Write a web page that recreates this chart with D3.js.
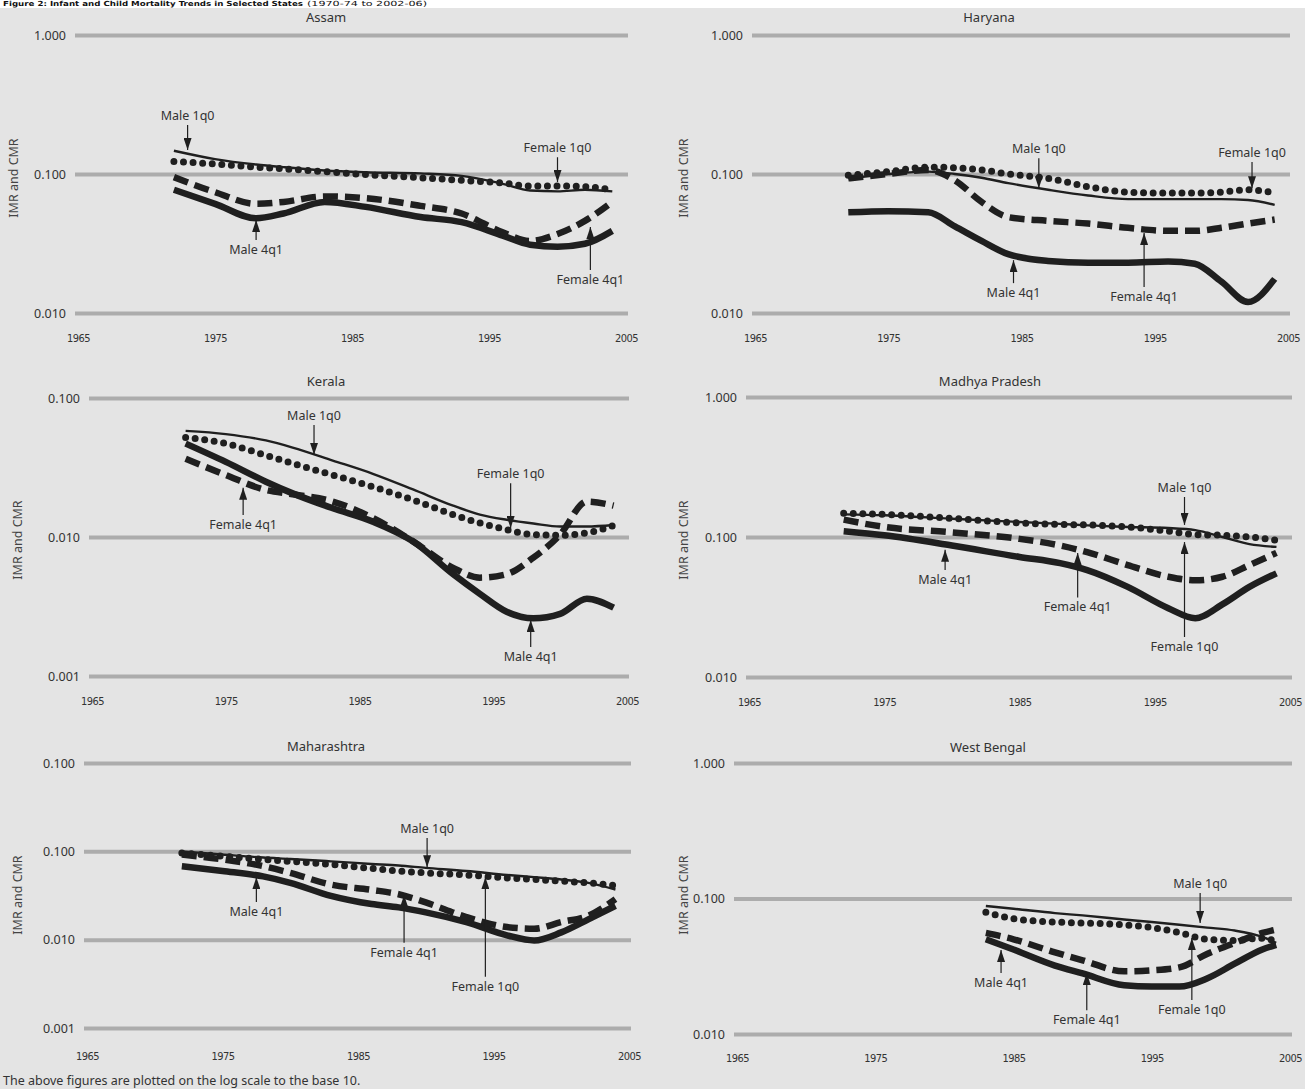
<!DOCTYPE html>
<meta charset="utf-8">
<script src="https://d3js.org/d3.v7.min.js"></script>
<style>
  body { margin: 0; background: #fff; }
  svg { display: block; }
  text { fill: #333; font-family: "Noto Sans", "Open Sans", sans-serif; }
  .xaxis text { font-family: "Liberation Sans Narrow", "DejaVu Sans Condensed", sans-serif; font-stretch: condensed; font-size: 11px; letter-spacing: -0.6px; }
  .yaxis text { font-size: 12.5px; }
</style>
<body>
<div id="chart"></div>
<script>
// ---- data ----
const xTicks = [1965, 1975, 1985, 1995, 2005];

const assamYears = [1972, 1975, 1978, 1980, 1983, 1986, 1990, 1993, 1996, 1998, 2000, 2002, 2004];
const assamMale1q0 = [0.147, 0.128, 0.117, 0.112, 0.106, 0.103, 0.101, 0.097, 0.085, 0.076, 0.075, 0.077, 0.075];
const assamFemale1q0 = [0.123, 0.118, 0.112, 0.109, 0.104, 0.099, 0.094, 0.090, 0.086, 0.082, 0.082, 0.081, 0.077];
const assamMale4q1 = [0.077, 0.061, 0.048, 0.052, 0.063, 0.058, 0.049, 0.045, 0.036, 0.031, 0.030, 0.0315, 0.039];
const assamFemale4q1 = [0.095, 0.074, 0.061, 0.063, 0.069, 0.067, 0.059, 0.052, 0.038, 0.033, 0.037, 0.046, 0.063];
const assamTicks = [1, 0.1, 0.01];
const assamTickLabels = ["1.000", "0.100", "0.010"];
const assamNotes = [
  ["Male 1q0", 1973, 0.149, 0.225],
  ["Female 1q0", 2000, 0.0875, 0.132],
  ["Male 4q1", 1978, 0.0467, 0.0335],
  ["Female 4q1", 2002.4, 0.0416, 0.0204]
];

const haryanaYears = [1972, 1975, 1978, 1980, 1982, 1984, 1987, 1990, 1993, 1996, 1998, 2000, 2002, 2004];
const haryanaMale1q0 = [0.093, 0.100, 0.104, 0.100, 0.094, 0.086, 0.077, 0.070, 0.066, 0.066, 0.066, 0.066, 0.065, 0.060];
const haryanaFemale1q0 = [0.098, 0.104, 0.112, 0.111, 0.107, 0.100, 0.093, 0.081, 0.074, 0.073, 0.073, 0.074, 0.077, 0.073];
const haryanaMale4q1 = [0.053, 0.054, 0.053, 0.042, 0.033, 0.0265, 0.0237, 0.023, 0.023, 0.0235, 0.0226, 0.0168, 0.012, 0.0176];
const haryanaFemale4q1 = [0.093, 0.100, 0.107, 0.090, 0.063, 0.049, 0.046, 0.044, 0.041, 0.039, 0.039, 0.041, 0.044, 0.047];
const haryanaTicks = [1, 0.1, 0.01];
const haryanaTickLabels = ["1.000", "0.100", "0.010"];
const haryanaNotes = [
  ["Male 1q0", 1986.3, 0.079, 0.130],
  ["Female 1q0", 2002.3, 0.079, 0.122],
  ["Male 4q1", 1984.4, 0.024, 0.0164],
  ["Female 4q1", 1994.2, 0.0376, 0.0154]
];

const keralaYears = [1972, 1975, 1978, 1980, 1983, 1986, 1989, 1992, 1994, 1996, 1998, 2000, 2002, 2004];
const keralaMale1q0 = [0.058, 0.055, 0.0495, 0.044, 0.0355, 0.0285, 0.022, 0.0168, 0.0145, 0.0133, 0.0125, 0.0119, 0.0119, 0.0122];
const keralaFemale1q0 = [0.052, 0.047, 0.0387, 0.0338, 0.0279, 0.023, 0.0185, 0.0145, 0.0126, 0.0113, 0.0104, 0.0103, 0.0107, 0.0121];
const keralaMale4q1 = [0.047, 0.0347, 0.025, 0.0206, 0.0161, 0.0129, 0.0093, 0.0054, 0.0039, 0.0029, 0.0026, 0.0028, 0.0036, 0.0031];
const keralaFemale4q1 = [0.0366, 0.0279, 0.0218, 0.0203, 0.018, 0.0137, 0.0093, 0.006, 0.0051, 0.0054, 0.0071, 0.0104, 0.018, 0.0168];
const keralaTicks = [0.1, 0.01, 0.001];
const keralaTickLabels = ["0.100", "0.010", "0.001"];
const keralaNotes = [
  ["Male 1q0", 1981.6, 0.039, 0.064],
  ["Female 1q0", 1996.3, 0.0116, 0.0244],
  ["Female 4q1", 1976.3, 0.0226, 0.0144],
  ["Male 4q1", 1997.8, 0.00253, 0.00162]
];

const mpYears = [1972, 1975, 1980, 1985, 1988, 1990, 1993, 1996, 1998, 2000, 2002, 2004];
const mpMale1q0 = [0.145, 0.143, 0.135, 0.128, 0.124, 0.121, 0.118, 0.116, 0.112, 0.100, 0.089, 0.085];
const mpFemale1q0 = [0.148, 0.145, 0.136, 0.126, 0.123, 0.122, 0.118, 0.110, 0.104, 0.103, 0.100, 0.095];
const mpMale4q1 = [0.110, 0.103, 0.087, 0.072, 0.065, 0.058, 0.044, 0.031, 0.0263, 0.033, 0.044, 0.055];
const mpFemale4q1 = [0.133, 0.118, 0.108, 0.097, 0.087, 0.078, 0.063, 0.052, 0.049, 0.052, 0.063, 0.077];
const mpTicks = [1, 0.1, 0.01];
const mpTickLabels = ["1.000", "0.100", "0.010"];
const mpNotes = [
  ["Male 1q0", 1997.2, 0.122, 0.193],
  ["Male 4q1", 1979.5, 0.081, 0.058],
  ["Female 4q1", 1989.3, 0.077, 0.037],
  ["Female 1q0", 1997.2, 0.092, 0.0193]
];

const mhYears = [1972, 1975, 1978, 1980, 1983, 1986, 1988, 1990, 1993, 1996, 1998, 2000, 2002, 2004];
const mhMale1q0 = [0.100, 0.092, 0.085, 0.082, 0.077, 0.072, 0.069, 0.065, 0.060, 0.054, 0.051, 0.048, 0.044, 0.037];
const mhFemale1q0 = [0.096, 0.088, 0.081, 0.077, 0.071, 0.064, 0.060, 0.057, 0.054, 0.050, 0.048, 0.046, 0.044, 0.041];
const mhMale4q1 = [0.068, 0.060, 0.052, 0.044, 0.0313, 0.0253, 0.0232, 0.0204, 0.0158, 0.0112, 0.0098, 0.0121, 0.017, 0.0242];
const mhFemale4q1 = [0.092, 0.081, 0.068, 0.057, 0.042, 0.0366, 0.0327, 0.0264, 0.018, 0.0139, 0.0133, 0.0158, 0.0187, 0.0288];
const mhTicks = [1, 0.1, 0.01, 0.001];
const mhTickLabels = ["0.100", "0.100", "0.010", "0.001"];
const mhNotes = [
  ["Male 1q0", 1990.1, 0.066, 0.142],
  ["Male 4q1", 1977.5, 0.051, 0.0267],
  ["Female 4q1", 1988.4, 0.032, 0.0092],
  ["Female 1q0", 1994.4, 0.051, 0.0038]
];

const wbYears = [1983, 1985, 1988, 1990, 1993, 1995, 1997, 1999, 2001, 2003, 2004];
const wbMale1q0 = [0.088, 0.084, 0.078, 0.075, 0.070, 0.067, 0.064, 0.061, 0.058, 0.052, 0.047];
const wbFemale1q0 = [0.079, 0.071, 0.067, 0.066, 0.064, 0.061, 0.056, 0.050, 0.049, 0.051, 0.048];
const wbMale4q1 = [0.050, 0.042, 0.032, 0.028, 0.0229, 0.0224, 0.0224, 0.0257, 0.033, 0.042, 0.0455];
const wbFemale4q1 = [0.0557, 0.050, 0.040, 0.035, 0.029, 0.0295, 0.031, 0.039, 0.047, 0.0557, 0.059];
const wbTicks = [1, 0.1, 0.01];
const wbTickLabels = ["1.000", "0.100", "0.010"];
const wbNotes = [
  ["Male 1q0", 1998.5, 0.066, 0.110],
  ["Male 4q1", 1984.1, 0.0417, 0.0282],
  ["Female 4q1", 1990.3, 0.0282, 0.015],
  ["Female 1q0", 1997.9, 0.051, 0.0178]
];

// ---- layout of the six panels ----
const panels = [
  {name: "Assam", years: assamYears, m1: assamMale1q0, f1: assamFemale1q0, m4: assamMale4q1, f4: assamFemale4q1,
   ticks: assamTicks, labels: assamTickLabels, notes: assamNotes,
   x0: 78, x1: 626, yTop: 35, yBot: 313, xLab: 334, titleX: 326, titleY: 22, yTitleX: 14, yTitleY: 178},
  {name: "Haryana", years: haryanaYears, m1: haryanaMale1q0, f1: haryanaFemale1q0, m4: haryanaMale4q1, f4: haryanaFemale4q1,
   ticks: haryanaTicks, labels: haryanaTickLabels, notes: haryanaNotes,
   x0: 755, x1: 1288, yTop: 35, yBot: 313, xLab: 334, titleX: 989, titleY: 22, yTitleX: 684, yTitleY: 178},
  {name: "Kerala", years: keralaYears, m1: keralaMale1q0, f1: keralaFemale1q0, m4: keralaMale4q1, f4: keralaFemale4q1,
   ticks: keralaTicks, labels: keralaTickLabels, notes: keralaNotes,
   x0: 92, x1: 627, yTop: 398, yBot: 676, xLab: 697, titleX: 326, titleY: 386, yTitleX: 18, yTitleY: 540},
  {name: "Madhya Pradesh", years: mpYears, m1: mpMale1q0, f1: mpFemale1q0, m4: mpMale4q1, f4: mpFemale4q1,
   ticks: mpTicks, labels: mpTickLabels, notes: mpNotes,
   x0: 749, x1: 1290, yTop: 397, yBot: 677, xLab: 698, titleX: 990, titleY: 386, yTitleX: 684, yTitleY: 540},
  {name: "Maharashtra", years: mhYears, m1: mhMale1q0, f1: mhFemale1q0, m4: mhMale4q1, f4: mhFemale4q1,
   ticks: mhTicks, labels: mhTickLabels, notes: mhNotes,
   x0: 87, x1: 629, yTop: 763, yBot: 1028, xLab: 1052, titleX: 326, titleY: 751, yTitleX: 18, yTitleY: 895},
  {name: "West Bengal", years: wbYears, m1: wbMale1q0, f1: wbFemale1q0, m4: wbMale4q1, f4: wbFemale4q1,
   ticks: wbTicks, labels: wbTickLabels, notes: wbNotes,
   x0: 737, x1: 1290, yTop: 763, yBot: 1034, xLab: 1054, titleX: 988, titleY: 752, yTitleX: 684, yTitleY: 895}
];

const W = 1305, H = 1089;
const ink = "#1f1f1f";

const svg = d3.select("#chart").append("svg")
  .attr("width", W)
  .attr("height", H);

// scanned page background
svg.append("rect").attr("width", W).attr("height", H).attr("fill", "#fff");
svg.append("rect").attr("x", 0).attr("y", 8).attr("width", W).attr("height", H - 8).attr("fill", "#e4e4e4");

// figure heading squeezed into the white strip at the top
const head = svg.append("text").attr("x", 3).attr("y", 6)
  .style("font-family", "'Liberation Sans Narrow', 'DejaVu Sans Condensed', sans-serif")
  .style("font-size", "7px").style("fill", "#111");
head.append("tspan").style("font-weight", "bold")
  .attr("textLength", 300).attr("lengthAdjust", "spacingAndGlyphs")
  .text("Figure 2: Infant and Child Mortality Trends in Selected States");
head.append("tspan").attr("dx", 4)
  .attr("textLength", 120).attr("lengthAdjust", "spacingAndGlyphs")
  .text("(1970-74 to 2002-06)");

svg.append("defs").append("marker")
  .attr("id", "arrow")
  .attr("markerUnits", "userSpaceOnUse")
  .attr("markerWidth", 12).attr("markerHeight", 8)
  .attr("refX", 12).attr("refY", 4)
  .attr("orient", "auto")
  .append("path").attr("d", "M0,0L12,4L0,8Z").attr("fill", ink);

panels.forEach(function(p) {
  const top = p.ticks[0], bottom = p.ticks[p.ticks.length - 1];
  const x = d3.scaleLinear().domain([1965, 2005]).range([p.x0, p.x1]);
  const y = d3.scaleLog().domain([top, bottom]).range([p.yTop, p.yBot]);
  const g = svg.append("g");
  const gridLeft = p.x0 - 3, gridRight = p.x1 + 2;

  // gridlines + y labels
  const yAxis = g.append("g").attr("class", "yaxis")
    .attr("transform", "translate(" + gridLeft + ",0)")
    .call(d3.axisLeft(y).tickValues(p.ticks)
      .tickFormat(function(d, i) { return p.labels[i]; })
      .tickSize(-(gridRight - gridLeft)).tickPadding(9));
  yAxis.select(".domain").remove();
  yAxis.selectAll(".tick line").attr("stroke", "#acacac").attr("stroke-width", 4);

  // x labels
  const xAxis = g.append("g").attr("class", "xaxis")
    .attr("transform", "translate(0," + p.xLab + ")")
    .call(d3.axisBottom(x).tickValues(xTicks).tickFormat(d3.format("d")).tickSize(0).tickPadding(0));
  xAxis.select(".domain").remove();

  g.append("text").attr("x", p.titleX).attr("y", p.titleY)
    .attr("text-anchor", "middle").style("font-size", "13px").text(p.name);

  g.append("text")
    .attr("transform", "translate(" + p.yTitleX + "," + p.yTitleY + ")rotate(-90)")
    .attr("text-anchor", "middle").attr("dy", "0.35em")
    .style("font-size", "12.5px").style("fill", "#444").text("IMR and CMR");

  const line = d3.line()
    .x(function(d) { return x(d[0]); })
    .y(function(d) { return y(d[1]); })
    .curve(d3.curveMonotoneX);
  const pts = function(vals) { return p.years.map(function(yr, i) { return [yr, vals[i]]; }); };

  g.append("path").attr("d", line(pts(p.m4)))
    .attr("fill", "none").attr("stroke", ink).attr("stroke-width", 6.5);
  g.append("path").attr("d", line(pts(p.f4)))
    .attr("fill", "none").attr("stroke", ink).attr("stroke-width", 6.5)
    .attr("stroke-dasharray", "15,7");
  g.append("path").attr("d", line(pts(p.f1)))
    .attr("fill", "none").attr("stroke", ink).attr("stroke-width", 7)
    .attr("stroke-linecap", "round").attr("stroke-dasharray", "0,9.6");
  g.append("path").attr("d", line(pts(p.m1)))
    .attr("fill", "none").attr("stroke", ink).attr("stroke-width", 2.4);

  // arrow annotations
  p.notes.forEach(function(n) {
    const ax = x(n[1]), tipY = y(n[2]), tailY = y(n[3]);
    g.append("line")
      .attr("x1", ax).attr("y1", tailY).attr("x2", ax).attr("y2", tipY)
      .attr("stroke", ink).attr("stroke-width", 1.2)
      .attr("marker-end", "url(#arrow)");
    const down = tailY < tipY;
    g.append("text").attr("x", ax).attr("y", down ? tailY - 5 : tailY + 14)
      .attr("text-anchor", "middle").style("font-size", "12.5px").text(n[0]);
  });
});

svg.append("text").attr("x", 3).attr("y", 1085)
  .style("font-size", "12.5px").text("The above figures are plotted on the log scale to the base 10.");
</script>
</body>
